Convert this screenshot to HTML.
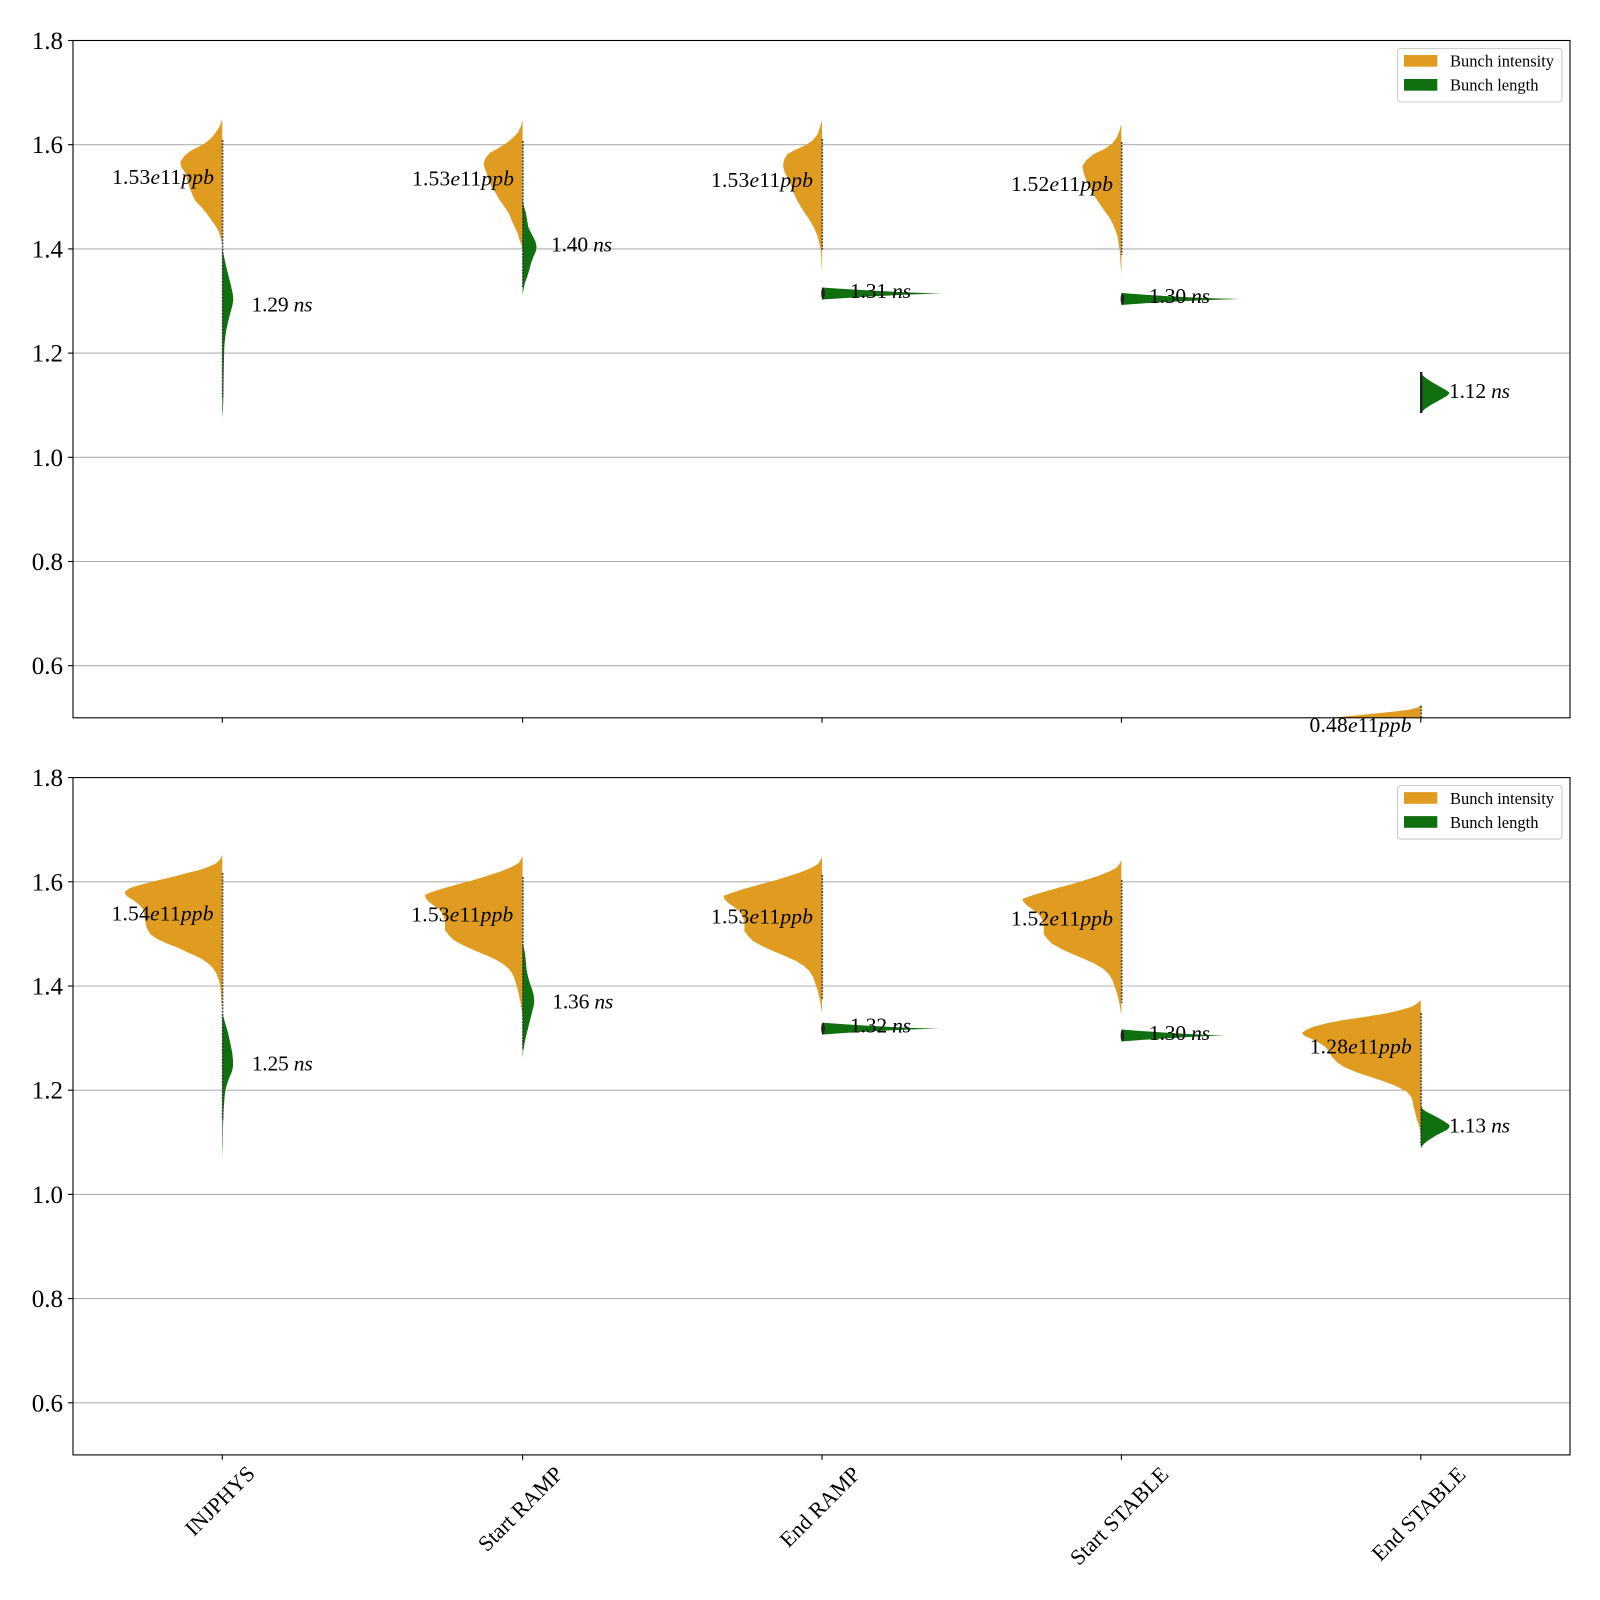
<!DOCTYPE html>
<html>
<head>
<meta charset="utf-8">
<style>
html,body{margin:0;padding:0;background:#fff;}
svg{display:block;}
text{font-family:"Liberation Serif","DejaVu Serif",serif;fill:#000;}
</style>
</head>
<body>
<svg xmlns="http://www.w3.org/2000/svg" width="1600" height="1600" viewBox="0 0 1600 1600">
<defs>
<clipPath id="c1"><rect x="73" y="40.5" width="1497" height="677.3"/></clipPath>
<clipPath id="c2"><rect x="73" y="777.6" width="1497" height="677.3"/></clipPath>
</defs>
<rect width="1600" height="1600" fill="#fff"/>

<!-- ================= TOP PANEL ================= -->
<g stroke="#b0b0b0" stroke-width="1.1">
<line x1="73" x2="1570" y1="144.7" y2="144.7"/>
<line x1="73" x2="1570" y1="248.9" y2="248.9"/>
<line x1="73" x2="1570" y1="353.1" y2="353.1"/>
<line x1="73" x2="1570" y1="457.3" y2="457.3"/>
<line x1="73" x2="1570" y1="561.5" y2="561.5"/>
<line x1="73" x2="1570" y1="665.7" y2="665.7"/>
</g>
<g clip-path="url(#c1)">
<!-- INJPHYS -->
<polygon fill="#df9c20" points="222.3,119 219.8,126 215.3,133 211.3,138 205.3,143 198.3,147 190.3,151 184.3,156 180.3,162 181.3,167 185.3,173 187.3,180 189.3,187 193.3,197 196.3,202 201.3,207 206.3,213 211.3,220 216.3,227 219.3,233 221.3,240 222.3,247"/>
<polygon fill="#107010" points="222.3,248 224.3,258 226.3,267 228.8,277 231.3,287 232.8,294 233.3,300 232.3,306 230.3,313 228.3,321 226.3,330 225.1,338 224.3,347 223.8,367 223.3,400 222.9,410 222.3,418"/>
<!-- Start RAMP -->
<polygon fill="#df9c20" points="522.6,120 520.6,127 517.6,133 512.6,138 506.6,143 498.6,148 489.6,153 485.6,158 483.6,163 484.6,168 486.6,173 488.6,180 491.6,187 495.6,193 499.6,200 504.6,207 508.6,213 511.6,220 514.6,227 517.6,233 519.6,240 521.6,245 522.6,249"/>
<polygon fill="#107010" points="522.6,200 524.1,207 525.9,213 527.1,220 528.3,227 530.6,232 533.3,237 535.6,242 536.6,247 535.6,252 533.3,257 531.1,263 529.3,270 527.1,277 524.9,283 523.6,289 522.6,295"/>
<!-- End RAMP -->
<polygon fill="#df9c20" points="822,120 820,127 817.7,134 813,140 806,145 795,150 787.4,154 784,160 783,166 784.5,172 787,177 791,185 794,194 798,202 803.4,211 809,219 814.1,228 817.5,236 819.5,244 821,251 821.4,262 822,273"/>
<path fill="#107010" d="M822,287.5 C860,290 900,292.5 941,293.5 C900,294.5 860,297 822,299.5 Z"/>
<!-- Start STABLE -->
<polygon fill="#df9c20" points="1121.4,124 1119.4,131 1116.4,138 1111.8,144 1104.4,149 1093.9,154 1086.4,160 1082.4,166 1083.4,172 1085,177 1088.4,185 1093.2,194 1098.4,202 1104.6,211 1110.4,219 1114.6,228 1117.4,236 1118.9,245 1119.9,252 1120.4,262 1121.4,275"/>
<path fill="#107010" d="M1121.4,293 C1160,296 1200,298 1240,299 C1200,300 1160,302 1121.4,305 Z"/>
<!-- End STABLE -->
<polygon fill="#107010" points="1420.8,372 1422.3,375 1425.8,378 1431.8,382 1438.8,386 1445.8,390 1449.8,393 1446.8,396 1439.8,400 1430.8,405 1424.8,409 1420.8,413"/>
<polygon fill="#df9c20" points="1420.8,704.5 1418,707.5 1410,709.5 1395,711.5 1375,713.5 1350,716 1320,719 1320,730 1420.8,730"/>
<!-- dots -->
<g stroke="#2a2a2a" stroke-width="1.6" stroke-dasharray="2 1.2" opacity="0.85">
<line x1="222.6" x2="222.6" y1="140" y2="397"/>
<line x1="522.9" x2="522.9" y1="141" y2="287"/>
<line x1="822.3" x2="822.3" y1="139" y2="251"/>
<line x1="1121.7" x2="1121.7" y1="142" y2="255"/>
<line x1="1421.1" x2="1421.1" y1="706" y2="718"/>
</g>
<g fill="#222">
<ellipse cx="823" cy="293.5" rx="1.8" ry="6"/>
<ellipse cx="1122.4" cy="299" rx="1.8" ry="6"/>
<rect x="1420" y="372" width="2.4" height="41"/>
</g>
</g>
<!-- spines -->
<rect x="73" y="40.5" width="1497" height="677.3" fill="none" stroke="#000" stroke-width="1.1"/>
<!-- ticks -->
<g stroke="#000" stroke-width="1.1">
<line x1="68.1" x2="73" y1="40.5" y2="40.5"/>
<line x1="68.1" x2="73" y1="144.7" y2="144.7"/>
<line x1="68.1" x2="73" y1="248.9" y2="248.9"/>
<line x1="68.1" x2="73" y1="353.1" y2="353.1"/>
<line x1="68.1" x2="73" y1="457.3" y2="457.3"/>
<line x1="68.1" x2="73" y1="561.5" y2="561.5"/>
<line x1="68.1" x2="73" y1="665.7" y2="665.7"/>
<line x1="222.3" x2="222.3" y1="717.8" y2="722.7"/>
<line x1="522.6" x2="522.6" y1="717.8" y2="722.7"/>
<line x1="822" x2="822" y1="717.8" y2="722.7"/>
<line x1="1121.4" x2="1121.4" y1="717.8" y2="722.7"/>
<line x1="1420.8" x2="1420.8" y1="717.8" y2="722.7"/>
</g>
<g font-size="25" text-anchor="end">
<text x="63" y="49">1.8</text>
<text x="63" y="153.2">1.6</text>
<text x="63" y="257.4">1.4</text>
<text x="63" y="361.6">1.2</text>
<text x="63" y="465.8">1.0</text>
<text x="63" y="570">0.8</text>
<text x="63" y="674.2">0.6</text>
</g>
<!-- annotations top -->
<g font-size="21.5">
<text x="214" y="184" text-anchor="end" textLength="102" lengthAdjust="spacing">1.53<tspan font-style="italic">e</tspan>11<tspan font-style="italic">ppb</tspan></text>
<text x="251.5" y="311.5" textLength="61" lengthAdjust="spacing">1.29 <tspan font-style="italic">ns</tspan></text>
<text x="514" y="185.5" text-anchor="end" textLength="102" lengthAdjust="spacing">1.53<tspan font-style="italic">e</tspan>11<tspan font-style="italic">ppb</tspan></text>
<text x="551" y="251.5" textLength="61" lengthAdjust="spacing">1.40 <tspan font-style="italic">ns</tspan></text>
<text x="813" y="187" text-anchor="end" textLength="102" lengthAdjust="spacing">1.53<tspan font-style="italic">e</tspan>11<tspan font-style="italic">ppb</tspan></text>
<text x="850" y="298" textLength="61" lengthAdjust="spacing">1.31 <tspan font-style="italic">ns</tspan></text>
<text x="1113" y="191" text-anchor="end" textLength="102" lengthAdjust="spacing">1.52<tspan font-style="italic">e</tspan>11<tspan font-style="italic">ppb</tspan></text>
<text x="1149" y="303" textLength="61" lengthAdjust="spacing">1.30 <tspan font-style="italic">ns</tspan></text>
<text x="1449" y="398" textLength="61" lengthAdjust="spacing">1.12 <tspan font-style="italic">ns</tspan></text>
<text x="1411.5" y="732" text-anchor="end" textLength="102" lengthAdjust="spacing">0.48<tspan font-style="italic">e</tspan>11<tspan font-style="italic">ppb</tspan></text>
</g>
<!-- legend top -->
<rect x="1397.5" y="48.5" width="164.5" height="53.5" rx="3" fill="#fff" fill-opacity="0.8" stroke="#cccccc" stroke-width="1.1"/>
<rect x="1404" y="55" width="33.3" height="11.7" fill="#df9c20"/>
<rect x="1404" y="79" width="33.3" height="11.7" fill="#107010"/>
<text x="1450" y="66.7" font-size="16.5">Bunch intensity</text>
<text x="1450" y="90.7" font-size="16.5">Bunch length</text>

<!-- ================= BOTTOM PANEL ================= -->
<g stroke="#b0b0b0" stroke-width="1.1">
<line x1="73" x2="1570" y1="881.8" y2="881.8"/>
<line x1="73" x2="1570" y1="986" y2="986"/>
<line x1="73" x2="1570" y1="1090.2" y2="1090.2"/>
<line x1="73" x2="1570" y1="1194.4" y2="1194.4"/>
<line x1="73" x2="1570" y1="1298.6" y2="1298.6"/>
<line x1="73" x2="1570" y1="1402.8" y2="1402.8"/>
</g>
<g clip-path="url(#c2)">
<!-- INJPHYS -->
<polygon fill="#df9c20" points="222.3,855 220.3,859 216.3,863.3 209.3,866.5 199.6,870 187.3,873 173.3,876.7 159.3,880 146.3,883.3 136.3,886 129.6,888.3 125.8,891 124.6,893.3 127.3,896.5 133,900 138.3,904 142.3,908.3 143.8,912 144.6,916.7 145.3,921 146.3,926.7 148.3,931 151.3,935 157.3,939 166.3,943.3 178.3,948 189.6,953.3 200.3,958 208,963.3 212.8,968 216.3,973.3 218.8,980 220.3,986.7 221.1,995 221.6,1003.3 222.3,1011.7"/>
<polygon fill="#107010" points="222.3,1013 224.3,1020 226.3,1026.7 228.1,1033 229.6,1040 231.1,1047 232.3,1053.3 233,1060 233,1066.7 231.8,1072 229.6,1076.7 227.8,1082 226.3,1086.7 225.3,1091 224.6,1096.7 223.6,1110 223,1126.7 222.7,1145 222.3,1158"/>
<!-- Start RAMP -->
<polygon fill="#df9c20" points="522.6,856 520.6,860 518.3,863.3 511.6,867 499.9,871.7 486.6,876 473.6,880 458.6,884 443.6,888.3 431.6,892 424.9,895 425.6,898 428.6,901.7 434.6,906 439.9,910 443.1,915 444.9,920 445.1,925 444.9,930 448.6,935 453.6,940 462.6,945 473.6,950 485.6,955 496.6,960 504.6,965 509.9,970 513.6,976 515.9,983.3 517.8,990 519.3,996.7 520.6,1003 521.6,1010 522.6,1016.7"/>
<polygon fill="#107010" points="522.6,943 523.9,948 524.9,953.3 525.8,961 526.6,970 528.1,977 529.9,983.3 531.6,988 533.3,993.3 534.3,1000 533.9,1005 532.6,1010 531.1,1016 529.3,1023.3 527.6,1030 525.9,1036.7 524.6,1043 523.3,1050 522.6,1058"/>
<!-- End RAMP -->
<polygon fill="#df9c20" points="822,857 820,861 817.7,864.3 811,868 799.3,872.7 786,877 773,881 758,885 743,889.3 731,893 723.5,896 724.5,899 728,902.7 734,907 739.3,911 742.5,916 744.3,921 744.5,926 744.3,931 748,936 753,941 762,946 773,951 785,956 796,961 804,966 809.3,971 813,977 815.5,984 817.5,990 819,996 820.5,1003 821.2,1008 822,1013"/>
<path fill="#107010" d="M822,1022.6 C860,1025.5 900,1027.8 941,1028.6 C900,1029.4 860,1031.7 822,1034.6 Z"/>
<!-- Start STABLE -->
<polygon fill="#df9c20" points="1121.4,860 1119.4,864 1117.1,867.3 1110.4,871 1098.7,875.7 1085.4,880 1072.4,884 1057.4,888 1042.4,892.3 1030.4,896 1022.4,899 1023.4,902 1027.4,905.7 1033.4,910 1038.7,914 1041.9,919 1043.7,924 1043.9,929 1043.7,934 1047.4,939 1052.4,944 1061.4,949 1072.4,954 1084.4,959 1095.4,964 1103.4,969 1108.7,974 1112.4,980 1114.9,987 1116.9,993 1118.4,999 1119.9,1006 1120.6,1011 1121.4,1016"/>
<path fill="#107010" d="M1121.4,1029.5 C1160,1032.5 1195,1034.7 1225.5,1035.5 C1195,1036.3 1160,1038.5 1121.4,1041.5 Z"/>
<!-- End STABLE -->
<polygon fill="#df9c20" points="1420.8,1000 1417.8,1003 1411.8,1006.7 1400.8,1010 1386.8,1013.3 1365.8,1016.7 1343.5,1020 1326.8,1023.3 1313.5,1026.7 1305.8,1030 1301.8,1033.3 1304.8,1036 1310.1,1038.3 1317.8,1042 1325.1,1046.7 1328.8,1051 1331.8,1056.7 1336.8,1062 1343.5,1066.7 1355.8,1072 1370.1,1076.7 1382.8,1081 1393.5,1085 1400.8,1088.5 1406.8,1091.7 1409.8,1095 1411.8,1098.3 1412.8,1102 1413.5,1106.7 1414.8,1111 1416.1,1116.7 1417.8,1122 1419.5,1126.7 1420.2,1131 1420.8,1136.7"/>
<polygon fill="#107010" points="1420.8,1107 1423.3,1109.5 1426.8,1112 1431.8,1114.5 1436.8,1117 1441.3,1119.5 1445.1,1122 1448.3,1124 1449.8,1126 1448.8,1128 1446.8,1130 1441.8,1132.5 1436.8,1135 1432.8,1137.5 1428.8,1140 1423.8,1144 1420.8,1148"/>
<!-- dots -->
<g stroke="#2a2a2a" stroke-width="1.6" stroke-dasharray="2 1.2" opacity="0.85">
<line x1="222.6" x2="222.6" y1="873" y2="1120"/>
<line x1="522.9" x2="522.9" y1="877" y2="1050"/>
<line x1="822.3" x2="822.3" y1="875" y2="1000"/>
<line x1="1121.7" x2="1121.7" y1="880" y2="1003"/>
<line x1="1421.1" x2="1421.1" y1="1013" y2="1145"/>
</g>
<g fill="#222">
<ellipse cx="823" cy="1028.6" rx="1.8" ry="6"/>
<ellipse cx="1122.4" cy="1035.5" rx="1.8" ry="6"/>
</g>
</g>
<rect x="73" y="777.6" width="1497" height="677.3" fill="none" stroke="#000" stroke-width="1.1"/>
<g stroke="#000" stroke-width="1.1">
<line x1="68.1" x2="73" y1="777.6" y2="777.6"/>
<line x1="68.1" x2="73" y1="881.8" y2="881.8"/>
<line x1="68.1" x2="73" y1="986" y2="986"/>
<line x1="68.1" x2="73" y1="1090.2" y2="1090.2"/>
<line x1="68.1" x2="73" y1="1194.4" y2="1194.4"/>
<line x1="68.1" x2="73" y1="1298.6" y2="1298.6"/>
<line x1="68.1" x2="73" y1="1402.8" y2="1402.8"/>
<line x1="222.3" x2="222.3" y1="1454.9" y2="1459.8"/>
<line x1="522.6" x2="522.6" y1="1454.9" y2="1459.8"/>
<line x1="822" x2="822" y1="1454.9" y2="1459.8"/>
<line x1="1121.4" x2="1121.4" y1="1454.9" y2="1459.8"/>
<line x1="1420.8" x2="1420.8" y1="1454.9" y2="1459.8"/>
</g>
<g font-size="25" text-anchor="end">
<text x="63" y="786.1">1.8</text>
<text x="63" y="890.3">1.6</text>
<text x="63" y="994.5">1.4</text>
<text x="63" y="1098.7">1.2</text>
<text x="63" y="1202.9">1.0</text>
<text x="63" y="1307.1">0.8</text>
<text x="63" y="1411.3">0.6</text>
</g>
<g font-size="21.5">
<text x="213.5" y="920.5" text-anchor="end" textLength="102" lengthAdjust="spacing">1.54<tspan font-style="italic">e</tspan>11<tspan font-style="italic">ppb</tspan></text>
<text x="251.7" y="1070.7" textLength="61" lengthAdjust="spacing">1.25 <tspan font-style="italic">ns</tspan></text>
<text x="513.3" y="921.7" text-anchor="end" textLength="102" lengthAdjust="spacing">1.53<tspan font-style="italic">e</tspan>11<tspan font-style="italic">ppb</tspan></text>
<text x="552.3" y="1008.3" textLength="61" lengthAdjust="spacing">1.36 <tspan font-style="italic">ns</tspan></text>
<text x="813" y="923.5" text-anchor="end" textLength="102" lengthAdjust="spacing">1.53<tspan font-style="italic">e</tspan>11<tspan font-style="italic">ppb</tspan></text>
<text x="850" y="1032.6" textLength="61" lengthAdjust="spacing">1.32 <tspan font-style="italic">ns</tspan></text>
<text x="1113" y="925.5" text-anchor="end" textLength="102" lengthAdjust="spacing">1.52<tspan font-style="italic">e</tspan>11<tspan font-style="italic">ppb</tspan></text>
<text x="1149" y="1039.8" textLength="61" lengthAdjust="spacing">1.30 <tspan font-style="italic">ns</tspan></text>
<text x="1411.7" y="1053.3" text-anchor="end" textLength="102" lengthAdjust="spacing">1.28<tspan font-style="italic">e</tspan>11<tspan font-style="italic">ppb</tspan></text>
<text x="1449" y="1132.7" textLength="61" lengthAdjust="spacing">1.13 <tspan font-style="italic">ns</tspan></text>
</g>
<rect x="1397.5" y="785.6" width="164.5" height="53.5" rx="3" fill="#fff" fill-opacity="0.8" stroke="#cccccc" stroke-width="1.1"/>
<rect x="1404" y="792.1" width="33.3" height="11.7" fill="#df9c20"/>
<rect x="1404" y="816.1" width="33.3" height="11.7" fill="#107010"/>
<text x="1450" y="803.8" font-size="16.5">Bunch intensity</text>
<text x="1450" y="827.8" font-size="16.5">Bunch length</text>

<!-- x tick labels -->
<g font-size="22" text-anchor="middle">
<text transform="translate(225,1506) rotate(-45)">INJPHYS</text>
<text transform="translate(525.5,1514) rotate(-45)">Start RAMP</text>
<text transform="translate(825,1512) rotate(-45)">End RAMP</text>
<text transform="translate(1124.3,1521) rotate(-45)">Start STABLE</text>
<text transform="translate(1423.7,1519) rotate(-45)">End STABLE</text>
</g>
</svg>
</body>
</html>
